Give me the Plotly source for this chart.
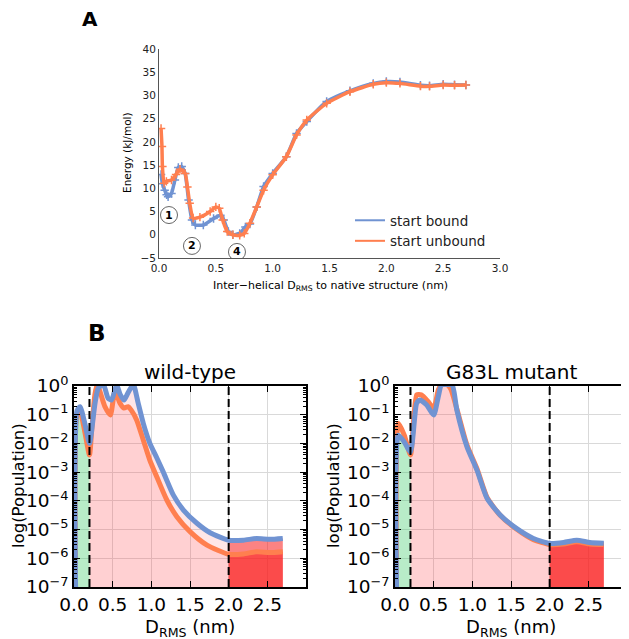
import numpy as np
import plotly.graph_objects as go

# ---------------- Panel A : free-energy profiles ----------------
a_bound_x = [0.018, 0.03, 0.05, 0.067, 0.08, 0.11, 0.14, 0.17, 0.20, 0.23, 0.26, 0.29, 0.32, 0.39,
             0.48, 0.54, 0.57, 0.61, 0.65, 0.71, 0.76, 0.80, 0.86, 0.92, 1.00, 1.12, 1.21, 1.30,
             1.475, 1.68, 1.885, 2.00, 2.12, 2.30, 2.38, 2.50, 2.60, 2.70]
a_bound_y = [13.0, 11.0, 9.6, 8.6, 8.2, 8.9, 11.8, 14.5, 14.7, 13.2, 7.5, 3.2, 2.1, 2.1,
             3.5, 4.2, 3.2, 0.7, 0.0, 0.3, 1.7, 2.3, 6.0, 10.4, 13.2, 16.8, 21.8, 24.4,
             28.7, 31.0, 32.6, 33.0, 32.9, 32.2, 32.1, 32.4, 32.3, 32.25]
a_unbound_x = [0.018, 0.026, 0.03, 0.045, 0.065, 0.11, 0.15, 0.185, 0.23, 0.25, 0.27, 0.30, 0.36,
               0.45, 0.50, 0.53, 0.56, 0.60, 0.65, 0.71, 0.75, 0.80, 0.86, 0.92, 1.00, 1.12,
               1.21, 1.30, 1.475, 1.68, 1.885, 2.00, 2.12, 2.30, 2.38, 2.50, 2.60, 2.70]
a_unbound_y = [22.9, 19.0, 14.7, 11.1, 11.5, 11.8, 13.0, 14.1, 13.2, 10.3, 6.8, 3.6, 3.8,
               5.0, 6.0, 5.7, 3.2, 0.7, 0.0, -0.1, 0.3, 2.5, 6.0, 9.6, 12.9, 16.8,
               21.5, 24.7, 28.3, 30.8, 32.4, 32.75, 32.6, 32.0, 31.96, 32.25, 32.2, 32.25]
a_xticks = [0.0, 0.5, 1.0, 1.5, 2.0, 2.5, 3.0]
a_yticks = [-5, 0, 5, 10, 15, 20, 25, 30, 35, 40]
minima_labels = ["1", "2", "4"]
minima_x = [0.088, 0.29, 0.686]
minima_y = [4.25, -2.4, -3.7]

# ---------------- Panel B : log10(population) ----------------
wt_bound_x = [0.02, 0.04, 0.078, 0.14, 0.20, 0.272, 0.315, 0.38, 0.44, 0.485, 0.552, 0.595, 0.647,
              0.70, 0.767, 0.83, 0.896, 0.98, 1.07, 1.155, 1.285, 1.415, 1.59, 1.76, 2.00,
              2.19, 2.36, 2.53, 2.70]
wt_bound_logp = [-7.0, -0.85, -0.72, -1.3, -2.0, -0.6, -0.07, 0.05, -0.42, -0.49, 0.03, -0.28, -0.49,
                 -0.23, 0.05, -0.6, -1.3, -1.99, -2.5, -3.0, -3.8, -4.32, -4.78, -5.11, -5.37,
                 -5.37, -5.31, -5.34, -5.31]
wt_unbound_x = [0.02, 0.04, 0.075, 0.14, 0.20, 0.23, 0.27, 0.30, 0.40, 0.47, 0.53, 0.595, 0.647,
                0.70, 0.74, 0.81, 0.896, 0.98, 1.07, 1.20, 1.33, 1.50, 1.72, 2.00, 2.19,
                2.36, 2.53, 2.70]
wt_unbound_logp = [-7.0, -0.95, -0.85, -1.6, -2.4, -1.5, -0.3, 0.05, -0.72, -1.01, -0.16, -0.6, -0.77,
                   -0.72, -0.84, -1.18, -1.88, -2.58, -3.16, -3.97, -4.55, -5.07, -5.54, -5.86, -5.85,
                   -5.77, -5.8, -5.77]
mut_bound_x = [0.02, 0.043, 0.12, 0.20, 0.28, 0.32, 0.41, 0.50, 0.56, 0.60, 0.67, 0.74, 0.80,
               0.93, 1.06, 1.19, 1.36, 1.57, 1.79, 2.00, 2.18, 2.35, 2.52, 2.70]
mut_bound_logp = [-7.0, -1.71, -1.95, -2.3, -0.6, -0.49, -0.66, -1.01, -0.37, 0.03, 0.05, 0.03, -0.84,
                  -2.11, -2.93, -3.91, -4.49, -4.96, -5.31, -5.48, -5.45, -5.37, -5.45, -5.48]
mut_unbound_x = [0.02, 0.043, 0.12, 0.20, 0.28, 0.34, 0.43, 0.50, 0.56, 0.60, 0.67, 0.72, 0.80,
                 0.93, 1.06, 1.19, 1.36, 1.57, 1.79, 2.00, 2.18, 2.35, 2.52, 2.70]
mut_unbound_logp = [-7.0, -1.3, -1.71, -2.4, -0.31, -0.31, -0.55, -0.78, -0.14, 0.05, 0.05, -0.1, -0.8,
                    -2.05, -2.88, -3.88, -4.5, -4.98, -5.35, -5.52, -5.5, -5.42, -5.5, -5.52]
b_xticks = [0.0, 0.5, 1.0, 1.5, 2.0, 2.5]
b_ydecades = [-7, -6, -5, -4, -3, -2, -1, 0]
state_edges = [0.0, 0.2, 2.0, 3.0]
state_fill = ["rgba(40,200,90,0.18)", "rgba(255,60,70,0.13)", "rgba(250,30,30,0.55)"]

BLUE = "#7093D2"
ORANGE = "#FF7F4F"
FONT = "DejaVu Sans"
W, H = 629, 639
OFF = 8  # page body margin of the html page


def fx(px):
    return (px - OFF) / W


def fy(py):
    return 1 - (py - OFF) / H


fig = go.Figure()

# ---- Panel A traces
for xs, ys, col in [(a_bound_x, a_bound_y, BLUE), (a_unbound_x, a_unbound_y, ORANGE)]:
    fig.add_trace(go.Scatter(
        x=xs, y=ys, mode="lines+markers", xaxis="x", yaxis="y", showlegend=False,
        line=dict(color=col, width=3.5, shape="spline", smoothing=0.5),
        marker=dict(symbol="cross-thin", size=6, line=dict(color=col, width=1.5)),
        hoverinfo="skip"))
for name, col in [("start bound", BLUE), ("start unbound", ORANGE)]:
    fig.add_trace(go.Scatter(x=[None], y=[None], mode="lines", name=name, xaxis="x", yaxis="y",
                             line=dict(color=col, width=2), showlegend=True))

# ---- Panel B traces
base = 10.0 ** b_ydecades[0]


def add_panel(xs_list, logp_list, cols, xa, ya):
    # fills under each curve, split by state
    for xs, lp in zip(xs_list, logp_list):
        x = np.array(xs)
        p = 10.0 ** np.array(lp)
        for i in range(3):
            a, b = state_edges[i], state_edges[i + 1]
            m = (x >= a) & (x <= b)
            if m.sum() < 2:
                continue
            xm, pm = x[m], p[m]
            fig.add_trace(go.Scatter(x=[xm[0], xm[-1]], y=[base, base], mode="lines",
                                     line=dict(width=0), xaxis=xa, yaxis=ya,
                                     showlegend=False, hoverinfo="skip"))
            fig.add_trace(go.Scatter(x=xm, y=pm, mode="lines", fill="tonexty",
                                     fillcolor=state_fill[i],
                                     line=dict(width=0, shape="spline", smoothing=0.6),
                                     xaxis=xa, yaxis=ya, showlegend=False, hoverinfo="skip"))
    for xs, lp, col in zip(xs_list, logp_list, cols):
        fig.add_trace(go.Scatter(x=xs, y=10.0 ** np.array(lp), mode="lines",
                                 line=dict(color=col, width=5, shape="spline", smoothing=0.6),
                                 xaxis=xa, yaxis=ya, showlegend=False, hoverinfo="skip"))


add_panel([wt_unbound_x, wt_bound_x], [wt_unbound_logp, wt_bound_logp], [ORANGE, BLUE], "x2", "y2")
add_panel([mut_unbound_x, mut_bound_x], [mut_unbound_logp, mut_bound_logp], [ORANGE, BLUE], "x3", "y3")

shapes = []
for xa, ya in [("x2", "y2"), ("x3", "y3")]:
    for xv in [state_edges[1], state_edges[2]]:
        shapes.append(dict(type="line", xref=xa, yref=ya + " domain", x0=xv, x1=xv, y0=0, y1=1,
                           line=dict(color="black", width=2, dash="8px,4px")))
for lx, ly in zip(minima_x, minima_y):
    shapes.append(dict(type="circle", xref="x", yref="y", xsizemode="pixel", ysizemode="pixel",
                       xanchor=lx, yanchor=ly, x0=-8.5, x1=8.5, y0=-8.5, y1=8.5,
                       line=dict(color="#666", width=1)))

ann = []
for t, lx, ly in zip(minima_labels, minima_x, minima_y):
    ann.append(dict(text="<b>%s</b>" % t, x=lx, y=ly, xref="x", yref="y", showarrow=False,
                    font=dict(size=11, color="black", family=FONT)))


def pann(text, px, py, size, angle=0, bold=False):
    ann.append(dict(text=("<b>%s</b>" % text) if bold else text, x=fx(px), y=fy(py),
                    xref="paper", yref="paper", showarrow=False, textangle=angle,
                    xanchor="center", yanchor="middle",
                    font=dict(size=size, color="black", family=FONT)))


pann("A", 90, 19, 20, bold=True)
pann("B", 97, 333, 23, bold=True)
pann("Energy (kJ/mol)", 127, 153, 10.5, angle=-90)
pann("Inter\u2212helical D<sub>RMS</sub> to native structure (nm)", 330, 286, 11)
pann("wild-type", 190, 372, 20)
pann("G83L mutant", 511, 372, 20)
pann("log(Population)", 18, 486, 16.5, angle=-90)
pann("log(Population)", 333, 486, 16.5, angle=-90)
pann("D<sub>RMS</sub> (nm)", 190, 628, 18)
pann("D<sub>RMS</sub> (nm)", 511, 628, 18)

a_axis_common = dict(showgrid=False, zeroline=False, showline=True, linecolor="#555", linewidth=1,
                     ticks="", automargin=False, tickfont=dict(size=10.5, color="#222", family=FONT))
b_xaxis_common = dict(range=[0, 3], tickmode="array", tickvals=b_xticks,
                      ticktext=["%.1f" % v for v in b_xticks], automargin=False,
                      showgrid=True, gridcolor="#d9d9d9", gridwidth=1, zeroline=False,
                      showline=True, mirror="allticks", linecolor="black", linewidth=1.5,
                      ticks="inside", ticklen=6, tickcolor="black",
                      tickfont=dict(size=18.5, color="black", family=FONT))
b_yaxis_common = dict(type="log", range=[-7, 0], tickmode="array", automargin=False,
                      tickvals=[10.0 ** d for d in b_ydecades],
                      ticktext=["10<sup>%s</sup>" % (str(d).replace("-", "\u2212")) for d in b_ydecades],
                      showgrid=True, gridcolor="#d9d9d9", gridwidth=1, zeroline=False,
                      showline=True, mirror="allticks", linecolor="black", linewidth=1.5,
                      ticks="inside", ticklen=6, tickcolor="black",
                      minor=dict(ticks="inside", ticklen=3, tickcolor="black", dtick="D1", showgrid=False),
                      tickfont=dict(size=18.5, color="black", family=FONT))

fig.update_layout(
    width=W, height=H, margin=dict(l=0, r=0, t=0, b=0, autoexpand=False),
    paper_bgcolor="white", plot_bgcolor="white",
    font=dict(family=FONT, color="black"),
    xaxis=dict(domain=[fx(159), fx(500)], range=[0, 3], anchor="y", tickmode="array", tickvals=a_xticks,
               ticktext=["%.1f" % v for v in a_xticks], **a_axis_common),
    yaxis=dict(domain=[fy(258), fy(49)], range=[-5, 40], anchor="x", tickmode="array", tickvals=a_yticks,
               ticktext=[str(v).replace("-", "\u2212") for v in a_yticks], **a_axis_common),
    xaxis2=dict(domain=[fx(74), fx(306)], anchor="y2", **b_xaxis_common),
    yaxis2=dict(domain=[fy(587), fy(386)], anchor="x2", **b_yaxis_common),
    xaxis3=dict(domain=[fx(395), fx(627)], anchor="y3", **b_xaxis_common),
    yaxis3=dict(domain=[fy(587), fy(386)], anchor="x3", **b_yaxis_common),
    legend=dict(x=fx(350), y=fy(205), xanchor="left", yanchor="top", bgcolor="rgba(0,0,0,0)",
                traceorder="normal",
                font=dict(size=13.5, color="#222", family=FONT), itemwidth=30, tracegroupgap=0),
    shapes=shapes, annotations=ann,
)

fig.write_html("out.html")
